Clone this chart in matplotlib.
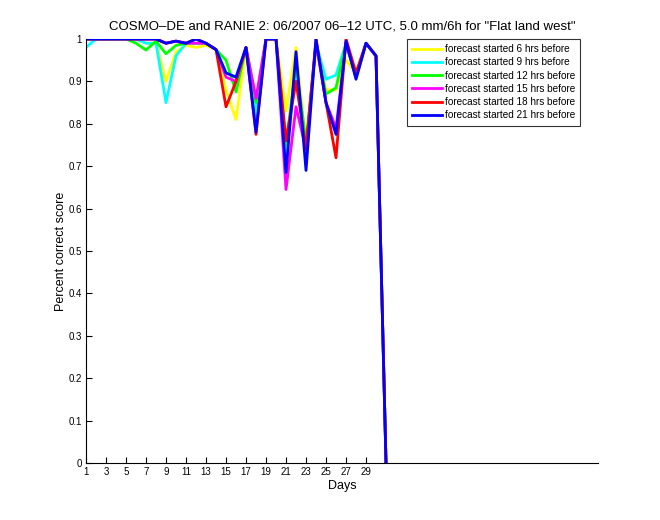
import matplotlib
matplotlib.use("Agg")
import matplotlib.pyplot as plt

plt.rcParams["font.family"] = ["Liberation Sans", "DejaVu Sans"]

days = list(range(1, 32))
f06 = [1.0, 1.0, 1.0, 1.0, 1.0, 1.0, 0.99, 0.99, 0.90, 0.97, 0.985, 0.98, 0.985, 0.975, 0.88, 0.81,
       0.98, 0.86, 1.0, 1.0, 0.83, 0.98, 0.75, 0.99, 0.88, 0.88, 0.95, 0.92, 0.99, 0.96, 0.0]
f09 = [0.98, 1.0, 1.0, 1.0, 1.0, 1.0, 0.99, 0.99, 0.85, 0.96, 0.99, 0.99, 0.99, 0.975, 0.92, 0.91,
       0.98, 0.82, 1.0, 1.0, 0.72, 0.93, 0.74, 0.99, 0.905, 0.915, 0.99, 0.91, 0.99, 0.96, 0.0]
f12 = [1.0, 1.0, 1.0, 1.0, 1.0, 0.99, 0.974, 0.995, 0.965, 0.985, 0.99, 0.99, 0.99, 0.975, 0.95, 0.875,
       0.98, 0.85, 1.0, 1.0, 0.75, 0.94, 0.755, 0.99, 0.87, 0.885, 0.99, 0.91, 0.99, 0.96, 0.0]
f15 = [1.0, 1.0, 1.0, 1.0, 1.0, 1.0, 1.0, 1.0, 0.99, 0.995, 0.99, 0.99, 0.99, 0.975, 0.91, 0.90,
       0.98, 0.86, 1.0, 1.0, 0.645, 0.84, 0.74, 0.99, 0.85, 0.79, 0.99, 0.91, 0.99, 0.96, 0.0]
f18 = [1.0, 1.0, 1.0, 1.0, 1.0, 1.0, 1.0, 1.0, 0.99, 0.995, 0.99, 1.0, 0.99, 0.975, 0.84, 0.90,
       0.98, 0.775, 1.0, 1.0, 0.76, 0.90, 0.74, 1.0, 0.85, 0.72, 1.0, 0.92, 0.99, 0.96, 0.0]
f21 = [1.0, 1.0, 1.0, 1.0, 1.0, 1.0, 1.0, 1.0, 0.99, 0.995, 0.99, 1.0, 0.99, 0.975, 0.92, 0.91,
       0.98, 0.78, 1.0, 1.0, 0.685, 0.97, 0.69, 1.0, 0.85, 0.775, 0.995, 0.905, 0.99, 0.96, 0.0]

series = [f06, f09, f12, f15, f18, f21]
labels = ["forecast started 6 hrs before", "forecast started 9 hrs before",
          "forecast started 12 hrs before", "forecast started 15 hrs before",
          "forecast started 18 hrs before", "forecast started 21 hrs before"]
colors = ["#ffff00", "#00ffff", "#00ff00", "#ff00ff", "#ff0000", "#0000ff"]
xticks = list(range(1, 30, 2))
yticks = [i / 10 for i in range(11)]
ytick_labels = ["0", "0.1", "0.2", "0.3", "0.4", "0.5", "0.6", "0.7", "0.8", "0.9", "1"]

fig = plt.figure(figsize=(6.6, 5.2), dpi=100)
ax = fig.add_axes([0.1303, 0.1096, 0.7758, 0.8154])
for ys, lab, c in zip(series, labels, colors):
    ax.plot(days, ys, color=c, lw=2, label=lab)

ax.set_xlim(1, 52.2)
ax.set_ylim(0, 1)
ax.set_xticks(xticks)
ax.set_yticks(yticks)
ax.set_yticklabels(ytick_labels)
ax.tick_params(direction="in", length=4, labelsize=7, width=0.8, pad=3)
for side in ("top", "right"):
    ax.spines[side].set_visible(False)
for side in ("left", "bottom"):
    ax.spines[side].set_linewidth(0.8)

ax.set_title('COSMO\u2013DE and RANIE 2: 06/2007 06\u201312 UTC, 5.0 mm/6h for "Flat land west"',
             fontsize=9.5, pad=7)
ax.set_xlabel("Days", fontsize=9, labelpad=2)
ax.set_ylabel("Percent correct score", fontsize=9, labelpad=1)

leg = ax.legend(loc="upper right", bbox_to_anchor=(0.965, 1.0), borderaxespad=0,
                fontsize=7.2, frameon=True, fancybox=False, handlelength=3.0,
                handletextpad=0.25, labelspacing=0.33, borderpad=0.5)
leg.get_frame().set_edgecolor("black")
leg.get_frame().set_linewidth(0.8)

fig.savefig("out.png", dpi=100, facecolor="white")
